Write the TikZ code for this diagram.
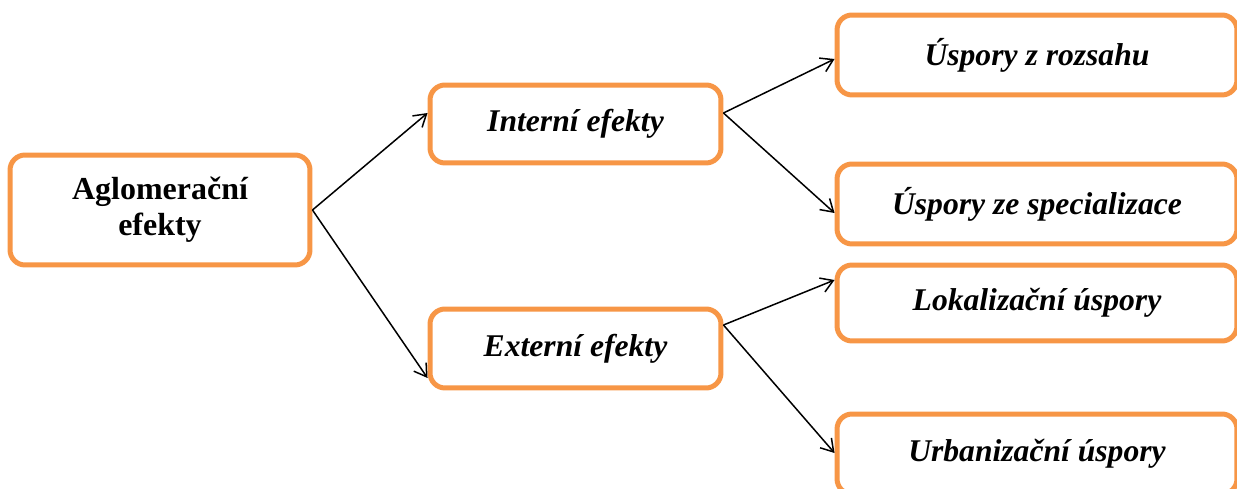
\documentclass[tikz,border=0pt]{standalone}
\usepackage{fontspec}
\setmainfont{Liberation Serif}
\usepackage{tikz}
\usetikzlibrary{arrows.meta}
\definecolor{boxorange}{HTML}{F79646}
\tikzset{
	effbox/.style={draw=boxorange, line width=0.1cm, rounded corners=0.3cm, fill=white, align=center, inner sep=0pt, font=\fontsize{18}{21}\selectfont\bfseries\itshape},
	effarrow/.style={-{Straight Barb[length=0.24cm, width=0.3cm]}, line width=0.03cm}
}

\begin{document}
\begin{tikzpicture}[x=0.02cm, y=-0.02cm]
				\useasboundingbox (0, 0) rectangle (1237, 489);
				% Boxes:
				\node[effbox, font=\fontsize{18.2}{20.5}\selectfont\bfseries, minimum width=6cm, minimum height=2.2cm](AE) at (160, 210){Aglomerační\\efekty};
				\node[effbox, minimum width=5.82cm, minimum height=1.56cm](IE) at (575.5, 124){Interní efekty};
				\node[effbox, minimum width=5.82cm, minimum height=1.58cm](EE) at (575.5, 348.5){Externí efekty};
				\node[effbox, minimum width=8cm, minimum height=1.6cm](UR) at (1037, 55){Úspory z rozsahu};
				\node[effbox, minimum width=8cm, minimum height=1.6cm](US) at (1037, 204){Úspory ze specializace};
				\node[effbox, minimum width=8cm, minimum height=1.52cm](LU) at (1037, 303){Lokalizační úspory};
				\node[effbox, minimum width=8cm, minimum height=1.6cm](BU) at (1037, 454){Urbanizační úspory};
				% Arrows:
				\draw[effarrow] (AE.east) -- ([yshift=0.22cm]IE.west);
				\draw[effarrow] (AE.east) -- ([yshift=-0.59cm]EE.west);
				\draw[effarrow] ([yshift=0.22cm]IE.east) -- ([yshift=-0.08cm]UR.west);
				\draw[effarrow] ([yshift=0.22cm]IE.east) -- ([yshift=-0.18cm]US.west);
				\draw[effarrow] ([yshift=0.47cm]EE.east) -- ([yshift=0.46cm]LU.west);
				\draw[effarrow] ([yshift=0.47cm]EE.east) -- ([yshift=0.02cm]BU.west);
			\end{tikzpicture}
\end{document}
